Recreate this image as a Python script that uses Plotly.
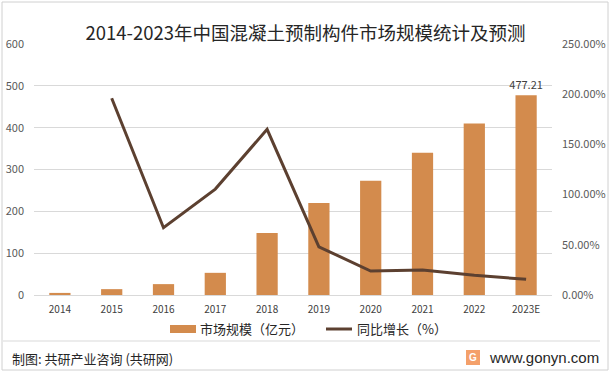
import plotly.graph_objects as go

categories = ["2014", "2015", "2016", "2017", "2018", "2019", "2020", "2021", "2022", "2023E"]
market_size = [5, 14, 26, 53, 148, 220, 273, 340, 410, 477.21]
growth_rate = [None, 1.96, 0.67, 1.055, 1.65, 0.48, 0.239, 0.249, 0.196, 0.156]
bar_labels = [""] * 9 + ["477.21"]
series_names = ["市场规模（亿元）", "同比增长（%）"]

BAR_COLOR = "#D38B4D"
LINE_COLOR = "#5C4030"
FONT = "Noto Sans CJK SC"

W, H = 611, 372
L, R, T, B = 34, 59, 44, 77
pw, ph = W - L - R, H - T - B

def px(x):
    return (x - L) / pw

def py(y):
    return (H - B - y) / ph

fig = go.Figure()
fig.add_trace(go.Bar(
    x=categories, y=market_size, name=series_names[0],
    marker=dict(color=BAR_COLOR, line=dict(width=0)),
    width=0.41, showlegend=False,
    text=bar_labels, textposition="outside", cliponaxis=False, constraintext="none",
    textfont=dict(size=11, color="#404040", family=FONT),
))
fig.add_trace(go.Scatter(
    x=categories, y=growth_rate, name=series_names[1], yaxis="y2", showlegend=False,
    mode="lines", line=dict(color=LINE_COLOR, width=3),
))

fig.update_layout(
    width=W, height=H,
    margin=dict(l=L, r=R, t=T, b=B, autoexpand=False),
    paper_bgcolor="white", plot_bgcolor="white",
    font=dict(family=FONT, color="#595959"),
    title=dict(text="2014-2023年中国混凝土预制构件市场规模统计及预测",
               x=0.5, xanchor="center", y=1 - 34 / H, yanchor="middle",
               font=dict(size=18.5, color="#262626", family=FONT)),
    showlegend=False,
    bargap=0.59,
    xaxis=dict(type="category", showgrid=False, showline=True, linecolor="#D9D9D9", linewidth=1,
               ticks="", tickfont=dict(size=10, color="#404040", family=FONT), ticklabelstandoff=5),
    yaxis=dict(range=[0, 600], dtick=100, showgrid=True, gridcolor="#D9D9D9", gridwidth=1,
               zeroline=False, showline=False, tickfont=dict(size=11, color="#595959", family=FONT),
               ticklabelstandoff=9),
    yaxis2=dict(range=[0, 2.5], dtick=0.5, tickformat=".2%", overlaying="y", side="right",
                showgrid=False, zeroline=False, showline=False,
                tickfont=dict(size=11, color="#595959", family=FONT), ticklabelstandoff=9),
)

# legend (drawn manually to match wide swatches)
fig.add_shape(type="rect", xref="paper", yref="paper",
              x0=px(170), x1=px(196), y0=py(333), y1=py(325),
              line=dict(width=0), fillcolor=BAR_COLOR)
fig.add_annotation(xref="paper", yref="paper", x=px(198), y=py(329), xanchor="left", yanchor="middle",
                   text=series_names[0], showarrow=False,
                   font=dict(size=13, color="#262626", family=FONT))
fig.add_shape(type="line", xref="paper", yref="paper",
              x0=px(326), x1=px(352), y0=py(329), y1=py(329),
              line=dict(color=LINE_COLOR, width=3))
fig.add_annotation(xref="paper", yref="paper", x=px(355), y=py(329), xanchor="left", yanchor="middle",
                   text=series_names[1], showarrow=False,
                   font=dict(size=13, color="#262626", family=FONT))

# outer border and footer separator
fig.add_shape(type="rect", xref="paper", yref="paper",
              x0=px(2), x1=px(608), y0=py(370), y1=py(2),
              line=dict(color="#D0D0D0", width=1), fillcolor="rgba(0,0,0,0)", layer="below")
fig.add_shape(type="line", xref="paper", yref="paper",
              x0=px(3), x1=px(600), y0=py(341), y1=py(341),
              line=dict(color="#D9D9D9", width=1))
# footer
fig.add_annotation(xref="paper", yref="paper", x=px(10), y=py(358), xanchor="left", yanchor="middle",
                   text="制图: 共研产业咨询 (共研网)", showarrow=False,
                   font=dict(size=13, color="#262626", family=FONT))
fig.add_annotation(xref="paper", yref="paper", x=px(601), y=py(357), xanchor="right", yanchor="middle",
                   text="www.gonyn.com", showarrow=False,
                   font=dict(size=15, color="#262626", family="Liberation Sans"))
fig.add_shape(type="rect", xref="paper", yref="paper",
              x0=px(466), x1=px(480), y0=py(365), y1=py(350),
              line=dict(width=0), fillcolor="#F4A06A")
fig.add_annotation(xref="paper", yref="paper", x=px(473), y=py(357.5), xanchor="center", yanchor="middle",
                   text="<b>G</b>", showarrow=False,
                   font=dict(size=10, color="white", family="Liberation Sans"))

fig.write_html("out.html", config={"displayModeBar": False},
               post_script="document.body.style.margin='0';document.body.style.padding='0';")
